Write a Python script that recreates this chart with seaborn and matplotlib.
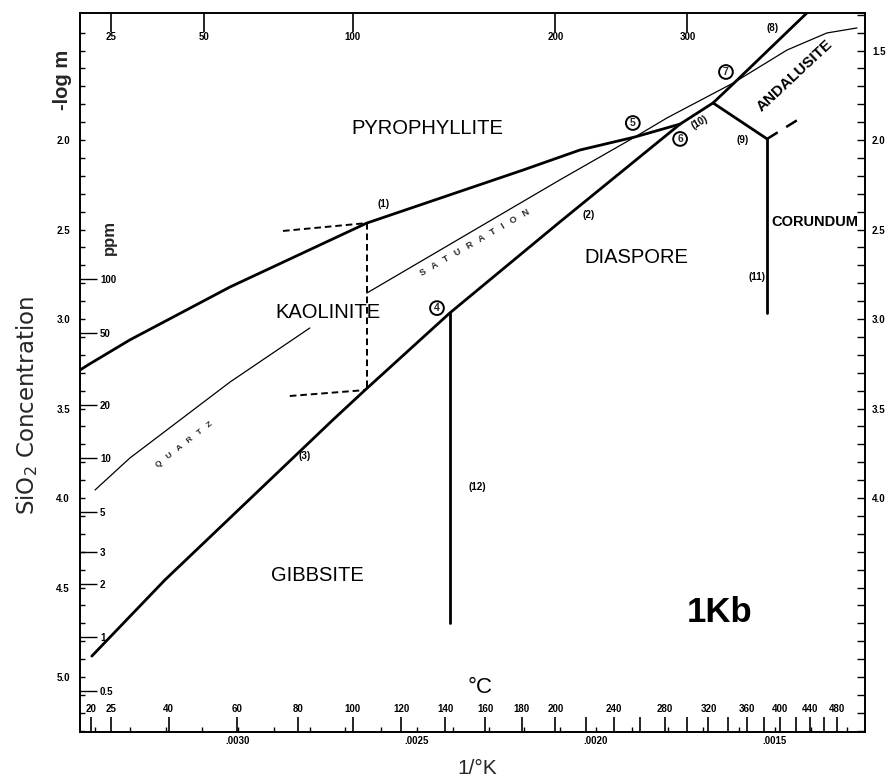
import numpy as np
import pandas as pd
import matplotlib
matplotlib.use("Agg")
import matplotlib.pyplot as plt
from matplotlib.ticker import FixedLocator, FuncFormatter, NullLocator
import seaborn as sns

# ---------------- data (x = 1/T in 1/K, y = -log m) ----------------
x_left, x_right = 0.003441, 0.0012486
y_top, y_bottom = 1.2905, 5.307

# (1) kaolinite / pyrophyllite boundary
line1_x = [0.003441, 0.003419, 0.003302, 0.003022, 0.002640, 0.002204, 0.002045, 0.001891, 0.001765]
line1_y = [3.285, 3.257, 3.117, 2.821, 2.464, 2.168, 2.056, 1.983, 1.911]
# (3)-(2)-(10)-(8) main diagonal boundary
main_x = [0.003408, 0.003204, 0.002735, 0.002645, 0.002408, 0.002101, 0.001765, 0.001673, 0.001617, 0.001411]
main_y = [4.883, 4.458, 3.564, 3.397, 2.966, 2.458, 1.911, 1.793, 1.687, 1.2905]
# (9)
line9_x = [0.001673, 0.001522]
line9_y = [1.793, 1.994]
# (11)
line11_x = [0.001522, 0.001522]
line11_y = [1.994, 2.966]
# (12)
line12_x = [0.002408, 0.002408]
line12_y = [2.966, 4.70]
# short broken branch from the (9)/(11) junction
branch_x = [0.001522, 0.001433]
branch_y = [1.994, 1.883]
# amorphous silica saturation
sat_x = [0.002640, 0.002101, 0.001891, 0.001802, 0.001617, 0.001466, 0.001355, 0.001271]
sat_y = [2.855, 2.223, 1.983, 1.877, 1.682, 1.497, 1.402, 1.374]
# quartz solubility
qtz_x = [0.003399, 0.003302, 0.003022, 0.002799]
qtz_y = [3.955, 3.777, 3.352, 3.050]
# dashed metastable extensions
dash_v_x = [0.002640, 0.002640]
dash_v_y = [2.464, 3.397]
dash_t_x = [0.002874, 0.002640]
dash_t_y = [2.508, 2.464]
dash_b_x = [0.002855, 0.002645]
dash_b_y = [3.430, 3.397]

# tick values
invT_major = [0.0030, 0.0025, 0.0020, 0.0015]
nlm_left_major = [2.0, 2.5, 3.0, 3.5, 4.0, 4.5, 5.0]
nlm_right_major = [1.5, 2.0, 2.5, 3.0, 3.5, 4.0]
ppm_ticks = [100, 50, 20, 10, 5, 3, 2, 1, 0.5]
ppm_labels = ["100", "50", "20", "10", "5", "3", "2", "1", "0.5"]
top_c = [25, 50, 100, 200, 300]
bottom_c = [20, 25, 40, 60, 80, 100, 120, 140, 160, 180, 200, 220, 240, 260,
            280, 300, 320, 340, 360, 380, 400, 420, 440, 460, 480]
bottom_c_labeled = [20, 25, 40, 60, 80, 100, 120, 140, 160, 180, 200, 240,
                    280, 320, 360, 400, 440, 480]

# region / curve labels: (text, x, y, size, rotation, weight)
region_labels = [
    ("PYROPHYLLITE", 0.002472, 1.933, 14.5, 0, "normal"),
    ("KAOLINITE", 0.002749, 2.961, 14.5, 0, "normal"),
    ("DIASPORE", 0.001888, 2.654, 14.5, 0, "normal"),
    ("GIBBSITE", 0.002777, 4.430, 14.5, 0, "normal"),
    ("CORUNDUM", 0.001388, 2.458, 10.5, 0, "bold"),
    ("ANDALUSITE", 0.001444, 1.642, 11, 43, "bold"),
    ("1Kb", 0.001654, 4.642, 25, 0, "bold"),
    ("°C", 0.002324, 5.056, 16, 0, "normal"),
]
curve_labels = [
    ("(1)", 0.002592, 2.358, 0),
    ("(2)", 0.002020, 2.419, 0),
    ("(3)", 0.002813, 3.765, 0),
    ("(12)", 0.002330, 3.939, 0),
    ("(11)", 0.001550, 2.765, 0),
    ("(10)", 0.001710, 1.899, 30),
    ("(9)", 0.001589, 2.000, 0),
    ("(8)", 0.001506, 1.374, 0),
]
points = [("4", 0.002444, 2.939), ("5", 0.001897, 1.905),
          ("6", 0.001765, 1.994), ("7", 0.001637, 1.620)]


def frame(segs):
    rows = []
    for k, (xs, ys) in enumerate(segs):
        for i, (a, b) in enumerate(zip(xs, ys)):
            rows.append({"seg": k, "order": i, "x": a, "y": b})
    return pd.DataFrame(rows)


def inv_to_c(x):
    x = np.asarray(x, dtype=float)
    with np.errstate(divide="ignore", invalid="ignore"):
        return 1.0 / x - 273.15


def c_to_inv(c):
    c = np.asarray(c, dtype=float)
    with np.errstate(divide="ignore", invalid="ignore"):
        return 1.0 / (c + 273.15)


def nlm_to_ppm(v):
    v = np.asarray(v, dtype=float)
    return 60080.0 * 10.0 ** (-v)


def ppm_to_nlm(p):
    p = np.asarray(p, dtype=float)
    with np.errstate(divide="ignore", invalid="ignore"):
        return np.log10(60080.0 / p)


sns.set_theme(style="white")
plt.rcParams["font.family"] = ["Liberation Sans", "DejaVu Sans"]
plt.rcParams["font.weight"] = "bold"
plt.rcParams["mathtext.default"] = "regular"

fig = plt.figure(figsize=(8.88, 7.79), dpi=100)
ax = fig.add_axes([80 / 888, 47 / 779, 785 / 888, 719 / 779])

thick = frame([(line1_x, line1_y), (main_x, main_y), (line9_x, line9_y),
               (line11_x, line11_y), (line12_x, line12_y)])
thin = frame([(sat_x, sat_y), (qtz_x, qtz_y)])
dashed = frame([(dash_v_x, dash_v_y), (dash_t_x, dash_t_y), (dash_b_x, dash_b_y)])
branch = frame([(branch_x, branch_y)])

sns.lineplot(data=thick, x="x", y="y", units="seg", estimator=None, sort=False,
             color="black", lw=2.0, ax=ax)
sns.lineplot(data=thin, x="x", y="y", units="seg", estimator=None, sort=False,
             color="black", lw=0.9, ax=ax)
sns.lineplot(data=dashed, x="x", y="y", units="seg", estimator=None, sort=False,
             color="black", lw=1.4, ls=(0, (3.4, 2.0)), ax=ax)
sns.lineplot(data=branch, x="x", y="y", units="seg", estimator=None, sort=False,
             color="black", lw=1.8, ls=(0, (5, 4)), ax=ax)

ax.set_xlim(x_left, x_right)
ax.set_ylim(y_bottom, y_top)
ax.set_xlabel("")
ax.set_ylabel("")
for s in ax.spines.values():
    s.set_visible(True)
    s.set_color("black")
    s.set_linewidth(1.3)

# bottom 1/T axis
ax.xaxis.set_major_locator(FixedLocator(invT_major))
ax.xaxis.set_major_formatter(FuncFormatter(lambda v, p: f"{v:.4f}"[1:]))
ax.xaxis.set_minor_locator(FixedLocator(np.round(np.arange(0.0013, 0.00345, 0.0001), 5)))
ax.tick_params(axis="x", which="both", direction="in", length=3.6, width=1.0,
               bottom=True, top=False, labelsize=7, pad=2.9, colors="black")
# left -log m axis
ax.yaxis.set_major_locator(FixedLocator(nlm_left_major))
ax.yaxis.set_major_formatter(FuncFormatter(lambda v, p: f"{v:.1f}"))
ax.yaxis.set_minor_locator(FixedLocator(np.round(np.arange(1.4, 5.31, 0.1), 2)))
ax.tick_params(axis="y", which="both", direction="in", length=3.6, width=1.0,
               left=True, right=False, labelsize=7, pad=7.2, colors="black")

# right -log m axis
sr = ax.secondary_yaxis("right", functions=(lambda v: v, lambda v: v))
sr.yaxis.set_major_locator(FixedLocator(nlm_right_major))
sr.yaxis.set_major_formatter(FuncFormatter(lambda v, p: f"{v:.1f}"))
sr.yaxis.set_minor_locator(FixedLocator(np.round(np.arange(1.3, 5.31, 0.1), 2)))
sr.tick_params(axis="y", which="both", direction="in", length=5.8, width=1.0,
               labelsize=7, pad=5, colors="black")
sr.spines["right"].set_linewidth(1.3)

# left ppm scale (inside)
sp = ax.secondary_yaxis("left", functions=(nlm_to_ppm, ppm_to_nlm))
sp.yaxis.set_major_locator(FixedLocator(ppm_ticks))
sp.yaxis.set_major_formatter(FuncFormatter(lambda v, p: ppm_labels[ppm_ticks.index(min(ppm_ticks, key=lambda t: abs(t - v)))]))
sp.yaxis.set_minor_locator(NullLocator())
sp.tick_params(axis="y", which="major", direction="in", length=12.2, width=1.0,
               labelsize=7, pad=-14.4, colors="black")
for lab in sp.get_yticklabels():
    lab.set_horizontalalignment("left")
sp.spines["left"].set_linewidth(1.3)

# top degC scale
st = ax.secondary_xaxis("top", functions=(inv_to_c, c_to_inv))
st.xaxis.set_major_locator(FixedLocator(top_c))
st.xaxis.set_major_formatter(FuncFormatter(lambda v, p: f"{v:.0f}"))
st.xaxis.set_minor_locator(NullLocator())
st.tick_params(axis="x", which="major", direction="in", length=13.7, width=1.2,
               labelsize=7, pad=-21.2, colors="black")
st.spines["top"].set_linewidth(1.3)

# bottom degC scale
sb = ax.secondary_xaxis("bottom", functions=(inv_to_c, c_to_inv))
sb.xaxis.set_major_locator(FixedLocator(bottom_c))
sb.xaxis.set_major_formatter(FuncFormatter(
    lambda v, p: f"{v:.0f}" if round(v) in bottom_c_labeled else ""))
sb.xaxis.set_minor_locator(NullLocator())
sb.tick_params(axis="x", which="major", direction="in", length=10.8, width=1.2,
               labelsize=7, pad=-19.8, colors="black")
sb.spines["bottom"].set_linewidth(1.3)

# texts
for s, x, y, fs, rot, wt in region_labels:
    ax.text(x, y, s, ha="center", va="center", fontsize=fs, rotation=rot,
            fontweight=wt, color="black")
for s, x, y, rot in curve_labels:
    ax.text(x, y, s, ha="center", va="center", fontsize=7, rotation=rot,
            fontweight="bold", color="black")
for s, x, y in points:
    ax.text(x, y, s, ha="center", va="center", fontsize=7.5, fontweight="bold",
            bbox=dict(boxstyle="circle,pad=0.18", fc="white", ec="black", lw=1.4))
ax.text(0.002338, 2.575, "S   A   T   U   R   A   T   I   O   N", ha="center",
        va="center", fontsize=6.5, rotation=30, fontweight="bold")
ax.text(0.003150, 3.700, "Q   U   A   R   T   Z", ha="center", va="center",
        fontsize=6, rotation=38, fontweight="bold")

fig.text(63 / 888, 1 - 80 / 779, "-log m", rotation=90, ha="center", va="center",
         fontsize=14.5, fontweight="bold")
fig.text(109 / 888, 1 - 238 / 779, "ppm", rotation=90, ha="center", va="center",
         fontsize=12, fontweight="bold")
fig.text(27 / 888, 1 - 405 / 779, "SiO$_2$ Concentration", rotation=90,
         ha="center", va="center", fontsize=16.5, fontweight="normal",
         family=["DejaVu Sans"])
fig.text(477 / 888, 1 - 768 / 779, "1/°K", ha="center", va="center",
         fontsize=15, fontweight="normal")

fig.savefig("out.png", dpi=100, facecolor="white")
